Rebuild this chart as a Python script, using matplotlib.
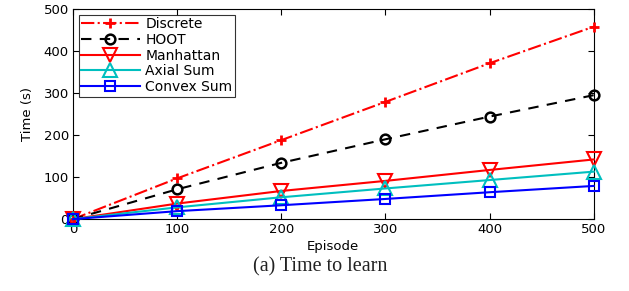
import matplotlib
matplotlib.use("Agg")
import matplotlib.pyplot as plt

episodes = [0, 100, 200, 300, 400, 500]
discrete = [0, 97, 188, 279, 371, 458]
hoot = [0, 71, 134, 190, 244, 295]
manhattan = [0, 37, 67, 91, 117, 142]
axial = [0, 28, 52, 73, 93, 113]
convex = [0, 19, 33, 48, 64, 79]

plt.rcParams['font.family'] = ['DejaVu Sans']
fig = plt.figure(figsize=(6.29, 2.91), dpi=100)
ax = fig.add_axes([0.116, 0.247, 0.828, 0.722])

lw = 1.5
ax.plot(episodes, discrete, color='red', linestyle='-.', linewidth=lw, marker='+', markersize=7, markeredgewidth=2, label='Discrete', clip_on=False, zorder=3)
ax.plot(episodes, hoot, color='black', linestyle=(0, (5, 4)), linewidth=lw, marker='o', markersize=7, markerfacecolor='none', markeredgewidth=1.8, label='HOOT', clip_on=False, zorder=3)
ax.plot(episodes, manhattan, color='red', linestyle='-', linewidth=lw, marker='v', markersize=9.5, markerfacecolor='none', markeredgewidth=1.5, label='Manhattan', clip_on=False, zorder=3)
ax.plot(episodes, axial, color='#00bfbf', linestyle='-', linewidth=lw, marker='^', markersize=9.5, markerfacecolor='none', markeredgewidth=1.5, label='Axial Sum', clip_on=False, zorder=3)
ax.plot(episodes, convex, color='blue', linestyle='-', linewidth=lw, marker='s', markersize=7, markerfacecolor='none', markeredgewidth=1.5, label='Convex Sum', clip_on=False, zorder=3)

ax.set_xlim(0, 500)
ax.set_ylim(0, 500)
ax.set_xticks(episodes)
ax.set_yticks([0, 100, 200, 300, 400, 500])
ax.tick_params(direction='in', top=True, right=True, labelsize=9.5, length=4, width=0.8, pad=3)
for s in ax.spines.values():
    s.set_linewidth(0.8)
ax.set_xlabel('Episode', fontsize=9.5, labelpad=3)
ax.set_ylabel('Time (s)', fontsize=9.5, labelpad=7)

leg = ax.legend(loc='upper left', fontsize=10, frameon=True, fancybox=False, edgecolor='black',
                borderpad=0.2, labelspacing=0.12, handlelength=4.2, handletextpad=0.4,
                borderaxespad=0.4)
leg.get_frame().set_linewidth(0.8)

fig.text(0.509, 0.083, '(a) Time to learn', fontsize=14.5, family='Liberation Serif', ha='center', va='center', color='#222222')

fig.savefig('out.png', dpi=100)
